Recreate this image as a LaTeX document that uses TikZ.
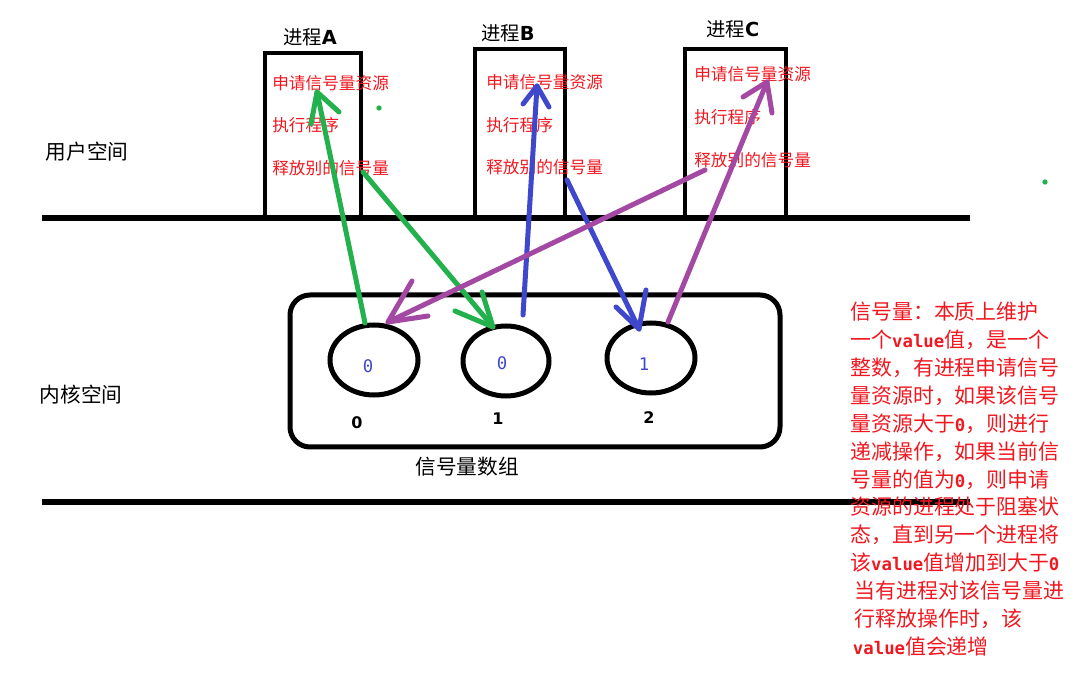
\documentclass[tikz,border=0pt]{standalone}
\usepackage{fontspec}
\setmainfont{Noto Sans CJK SC}
\newfontfamily\latb{DejaVu Sans}
\newfontfamily\monof{DejaVu Sans Mono}
\usetikzlibrary{shapes.geometric}
\definecolor{pgreen}{RGB}{34,177,76}
\definecolor{pblue}{RGB}{63,72,204}
\definecolor{ppurple}{RGB}{163,73,164}
\definecolor{pred}{RGB}{240,24,32}
\newcommand\monoval[1]{{\monof\bfseries\fontsize{13}{20.75}\selectfont #1}}
\tikzset{
  procbox/.style={draw, line width=3pt, inner sep=0pt},
  boxtxt/.style={text=pred, anchor=west, inner sep=0pt, font=\fontsize{12.5}{14}\selectfont},
  bigtxt/.style={inner sep=0pt, font=\fontsize{15.5}{18}\selectfont},
  sem/.style={ellipse, draw, line width=3.75pt, inner sep=0pt},
  idx/.style={inner sep=0pt, font=\latb\bfseries\fontsize{12}{14}\selectfont},
  val/.style={inner sep=0pt, text=pblue, font=\monof\fontsize{13}{15}\selectfont},
  sep/.style={line width=4pt},
  arr/.style={line width=3.75pt, line cap=round, line join=round},
  dotg/.style={circle, fill=pgreen, inner sep=0pt, minimum size=4pt}
}
\begin{document}
\begin{tikzpicture}[x=0.75pt,y=-0.75pt]
\useasboundingbox (0,0) rectangle (1081,680);
% separator lines
\coordinate (t1) at (42,218); \coordinate (t2) at (970,218);
\coordinate (b1) at (42,502); \coordinate (b2) at (970,502);
\draw[sep] (t1) -- (t2);
\draw[sep] (b1) -- (b2);
% process boxes
\node[procbox, minimum width=72pt, minimum height=123.75pt] (pa) at (313,135.5) {};
\node[procbox, minimum width=67.5pt, minimum height=126.75pt] (pb) at (520,133.5) {};
\node[procbox, minimum width=75.75pt, minimum height=126.75pt] (pc) at (735.5,133.5) {};
\node[bigtxt, font=\fontsize{14.5}{17}\selectfont] (ta) at (310,37) {进程{\latb\bfseries A}};
\node[bigtxt, font=\fontsize{14.5}{17}\selectfont] (tb) at (508,33) {进程{\latb\bfseries B}};
\node[bigtxt, font=\fontsize{14.5}{17}\selectfont] (tc) at (733,29) {进程{\latb\bfseries C}};
% box texts
\node[boxtxt] (a1) at (272,83) {申请信号量资源};
\node[boxtxt] (a2) at (272,125) {执行程序};
\node[boxtxt] (a3) at (272,168) {释放别的信号量};
\node[boxtxt] (b1t) at (486,82) {申请信号量资源};
\node[boxtxt] (b2t) at (486,125) {执行程序};
\node[boxtxt] (b3t) at (486,167) {释放别的信号量};
\node[boxtxt] (c1) at (694,74) {申请信号量资源};
\node[boxtxt] (c2) at (694,117) {执行程序};
\node[boxtxt] (c3) at (694,160) {释放别的信号量};
% space labels
\node[bigtxt] (us) at (87,152) {用户空间};
\node[bigtxt] (ks) at (81,395) {内核空间};
% kernel array
\node[draw, line width=3.75pt, rounded corners=15pt, minimum width=367.5pt, minimum height=114pt, inner sep=0pt] (arr) at (535,371) {};
\node[sem, minimum width=66pt, minimum height=52.5pt] (e0) at (374,360) {};
\node[sem, minimum width=64.5pt, minimum height=52.5pt] (e1) at (506,361) {};
\node[sem, minimum width=66pt, minimum height=52.5pt] (e2) at (651,358) {};
\node[val] (v0) at (368,366) {0};
\node[val] (v1) at (502,363) {0};
\node[val] (v2) at (644,364) {1};
\node[idx] (i0) at (357,423) {0};
\node[idx] (i1) at (498,419) {1};
\node[idx] (i2) at (649,418) {2};
\node[bigtxt] (arrlbl) at (467,467) {信号量数组};
% dots
\node[dotg] (d1) at (379,108) {};
\node[dotg] (d2) at (1045,182) {};
% arrows: green
\coordinate (g1t) at (365,323); \coordinate (g1h) at (317,92);
\coordinate (g1a) at (311,124); \coordinate (g1b) at (339,112);
\draw[arr, pgreen] (g1t) -- (g1h);
\draw[arr, pgreen] (g1a) -- (g1h) -- (g1b);
\coordinate (g2t) at (363,172); \coordinate (g2h) at (493,327);
\coordinate (g2a) at (455,311); \coordinate (g2b) at (482,292);
\draw[arr, pgreen] (g2t) -- (g2h);
\draw[arr, pgreen] (g2a) -- (g2h) -- (g2b);
% blue
\coordinate (u1t) at (523,315); \coordinate (u1h) at (537,86);
\coordinate (u1a) at (523,104); \coordinate (u1b) at (549,107);
\draw[arr, pblue] (u1t) -- (u1h);
\draw[arr, pblue] (u1a) -- (u1h) -- (u1b);
\coordinate (u2t) at (567,180); \coordinate (u2h) at (639,329);
\coordinate (u2a) at (616,307); \coordinate (u2b) at (646,290);
\draw[arr, pblue] (u2t) -- (u2h);
\draw[arr, pblue] (u2a) -- (u2h) -- (u2b);
% purple
\coordinate (p1t) at (705,170); \coordinate (p1h) at (388,322);
\coordinate (p1a) at (428,316); \coordinate (p1b) at (412,281);
\draw[arr, ppurple] (p1t) -- (p1h);
\draw[arr, ppurple] (p1a) -- (p1h) -- (p1b);
\coordinate (p2t) at (668,322); \coordinate (p2h) at (767,82);
\coordinate (p2a) at (743,97); \coordinate (p2b) at (772,113);
\draw[arr, ppurple] (p2t) -- (p2h);
\draw[arr, ppurple] (p2a) -- (p2h) -- (p2b);
% explanation
\node[anchor=north west, inner sep=0pt, text=pred, align=left, font=\fontsize{15.7}{20.9}\selectfont] (expl) at (850,302) {%
信号量：本质上维护\\
一个\monoval{value}值，是一个\\
整数，有进程申请信号\\
量资源时，如果该信号\\
量资源大于\monoval{0}，则进行\\
递减操作，如果当前信\\
号量的值为\monoval{0}，则申请\\
资源的进程处于阻塞状\\
态，直到另一个进程将\\
该\monoval{value}值增加到大于\monoval{0}\\
\hspace{3.5pt}当有进程对该信号量进\\
\hspace{3.5pt}行释放操作时，该\\
\hspace{2pt}\monoval{value}值会递增};
\end{tikzpicture}
\end{document}
